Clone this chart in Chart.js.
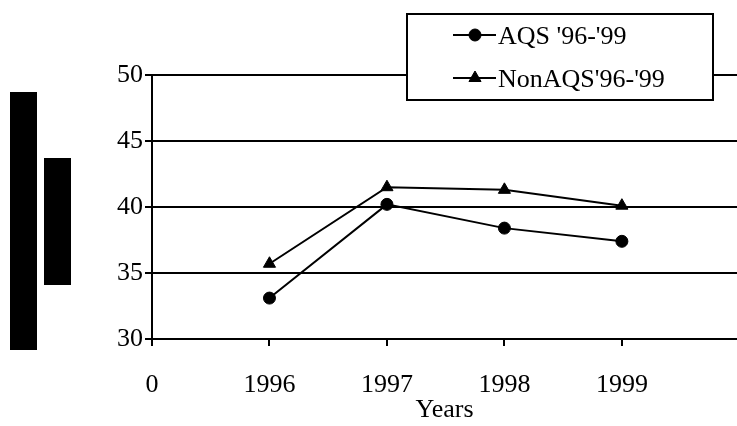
<!DOCTYPE html>
<html><head><meta charset="utf-8">
<script src="https://cdn.jsdelivr.net/npm/chart.js@4.4.1/dist/chart.umd.min.js"></script>
<style>html,body{margin:0;padding:0;background:#fff;}</style>
</head><body>
<canvas id="c" width="737" height="426"></canvas>
<script>
const years = ['1996', '1997', '1998', '1999'];
const xTickLabels = ['0', '1996', '1997', '1998', '1999'];
const aqs = [33.1, 40.2, 38.4, 37.4];
const nonAqs = [35.7, 41.5, 41.3, 40.1];
const yTicks = [30, 35, 40, 45, 50];
const seriesNames = ["AQS '96-'99", "NonAQS'96-'99"];
const xTitle = 'Years';

const FONT = "'Liberation Serif', 'Times New Roman', serif";
const toPts = arr => arr.map((v, i) => ({x: i + 1, y: v}));

const decoPlugin = {
  id: 'deco',
  afterDraw(chart) {
    const ctx = chart.ctx;
    ctx.save();
    // dark redaction bars on the left (scan artefact)
    ctx.fillStyle = '#000';
    ctx.fillRect(10, 92, 27, 258);
    ctx.fillRect(44, 158, 27, 127);
    // legend box
    const bx = 407, by = 14, bw = 306, bh = 86;
    ctx.fillStyle = '#fff';
    ctx.fillRect(bx, by, bw, bh);
    ctx.strokeStyle = '#000';
    ctx.lineWidth = 2;
    ctx.strokeRect(bx, by, bw, bh);
    const rows = [35, 78];
    chart.data.datasets.forEach((ds, i) => {
      const y = rows[i];
      ctx.strokeStyle = '#000';
      ctx.lineWidth = 2;
      ctx.beginPath();
      ctx.moveTo(453, y);
      ctx.lineTo(496, y);
      ctx.stroke();
      ctx.fillStyle = '#000';
      ctx.lineWidth = 1;
      Chart.helpers.drawPoint(ctx, {
        pointStyle: ds.pointStyle, radius: ds.pointRadius, rotation: 0, borderWidth: 1
      }, 475, y);
      ctx.fillStyle = '#000';
      ctx.font = '26px ' + FONT;
      ctx.textAlign = 'left';
      ctx.textBaseline = 'alphabetic';
      ctx.fillText(ds.label, 498, y + 9);
    });
    ctx.restore();
  }
};

new Chart(document.getElementById('c'), {
  type: 'line',
  data: {
    datasets: [
      {label: seriesNames[0], data: toPts(aqs), borderColor: '#000', backgroundColor: '#000',
       borderWidth: 2, pointStyle: 'circle', pointRadius: 6, pointBorderWidth: 1, fill: false, tension: 0},
      {label: seriesNames[1], data: toPts(nonAqs), borderColor: '#000', backgroundColor: '#000',
       borderWidth: 2, pointStyle: 'triangle', pointRadius: 7, pointBorderWidth: 1, fill: false, tension: 0}
    ]
  },
  options: {
    responsive: false,
    animation: false,
    devicePixelRatio: 1,
    layout: {autoPadding: false, padding: {top: 75, right: 0, left: 0, bottom: 0}},
    plugins: {legend: {display: false}, tooltip: {enabled: false}},
    scales: {
      x: {
        type: 'linear', min: 0, max: 4.98,
        afterBuildTicks: s => { s.ticks = xTickLabels.map((_, i) => ({value: i})); },
        afterFit: s => { s.height = 87; s.paddingRight = 0; s.paddingLeft = 0; },
        border: {display: true, color: '#000', width: 2},
        grid: {drawOnChartArea: false, drawTicks: true, tickLength: 7, color: '#000', lineWidth: 2},
        ticks: {color: '#000', font: {family: FONT, size: 26}, padding: 24, maxRotation: 0, autoSkip: false,
                callback: (v, i) => xTickLabels[i]},
        title: {display: true, text: xTitle, color: '#000', font: {family: FONT, size: 26}, padding: {top: 0, bottom: 0}}
      },
      y: {
        min: 30, max: 50,
        afterBuildTicks: s => { s.ticks = yTicks.map(v => ({value: v})); },
        afterFit: s => { s.width = 152; s.paddingTop = 0; s.paddingBottom = 0; },
        border: {display: true, color: '#000', width: 2},
        grid: {drawOnChartArea: true, drawTicks: true, tickLength: 7, color: '#000', lineWidth: 2},
        ticks: {color: '#000', font: {family: FONT, size: 26}, padding: 2}
      }
    }
  },
  plugins: [decoPlugin]
});
</script>
</body></html>
